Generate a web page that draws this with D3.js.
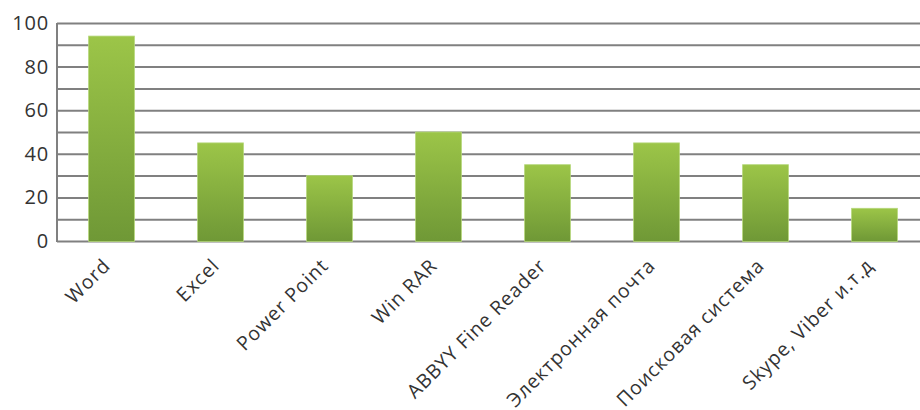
<!DOCTYPE html>
<html><head><meta charset="utf-8">
<script src="https://cdn.jsdelivr.net/npm/d3@7"></script>
<style>body{margin:0;background:#fff}svg{display:block}</style>
</head><body>
<svg id="c" width="920" height="410"></svg>
<script>
const categories = ["Word","Excel","Power Point","Win RAR","ABBYY Fine Reader","Электронная почта","Поисковая система","Skype, Viber и.т.д"];
const values = [94,45,30,50,35,45,35,15];
const yTicks = [0,20,40,60,80,100];
const gridTicks = [0,10,20,30,40,50,60,70,80,90,100];

const svg = d3.select("#c");
const m = {left:57, top:23, bottom:241, right:929};
const x = d3.scaleBand().domain(categories).range([m.left, m.right]).paddingInner(0.58).paddingOuter(0.29);
const y = d3.scaleLinear().domain([0,100]).range([m.bottom, m.top]);

const defs = svg.append("defs");
const g = defs.append("linearGradient").attr("id","bg").attr("x1",0).attr("y1",0).attr("x2",0).attr("y2",1);
g.append("stop").attr("offset","0%").attr("stop-color","#9cc548");
g.append("stop").attr("offset","100%").attr("stop-color","#6f9836");

// grid
svg.append("g").selectAll("line").data(gridTicks).join("line")
  .attr("x1", m.left).attr("x2", 920)
  .attr("y1", d=>y(d)+0.5).attr("y2", d=>y(d)+0.5)
  .attr("stroke","#808080").attr("stroke-width",2);
// left axis line
svg.append("line").attr("x1",m.left).attr("x2",m.left).attr("y1",y(100)).attr("y2",y(0)+1)
  .attr("stroke","#808080").attr("stroke-width",2);

// y labels
const ya = svg.append("g").attr("transform",`translate(${m.left-8},0)`)
  .call(d3.axisLeft(y).tickValues(yTicks).tickSize(0).tickPadding(0));
ya.select(".domain").remove();
ya.selectAll("text").attr("font-family","'Open Sans', Lato, sans-serif").attr("font-size",20)
  .attr("letter-spacing","0.8px").attr("fill","#333");

// bars
svg.append("g").selectAll("rect").data(values).join("rect")
  .attr("x",(d,i)=>x(categories[i])).attr("width",x.bandwidth())
  .attr("y",d=>y(d)).attr("height",d=>y(0)-y(d)+0.5)
  .attr("fill","url(#bg)").attr("stroke","#b5d77a").attr("stroke-width",0.8);

// x labels
const xa = svg.append("g").attr("transform",`translate(0,${m.bottom})`)
  .call(d3.axisBottom(x).tickSize(0).tickPadding(0));
xa.select(".domain").remove();
xa.selectAll("text")
  .attr("font-family","'Open Sans', Lato, sans-serif").attr("font-size",19.5).attr("fill","#333")
  .attr("letter-spacing","0.9px")
  .attr("text-anchor","end").attr("dy",0).attr("y",0)
  .attr("transform","translate(0,26) rotate(-45)");
</script>
</body></html>
